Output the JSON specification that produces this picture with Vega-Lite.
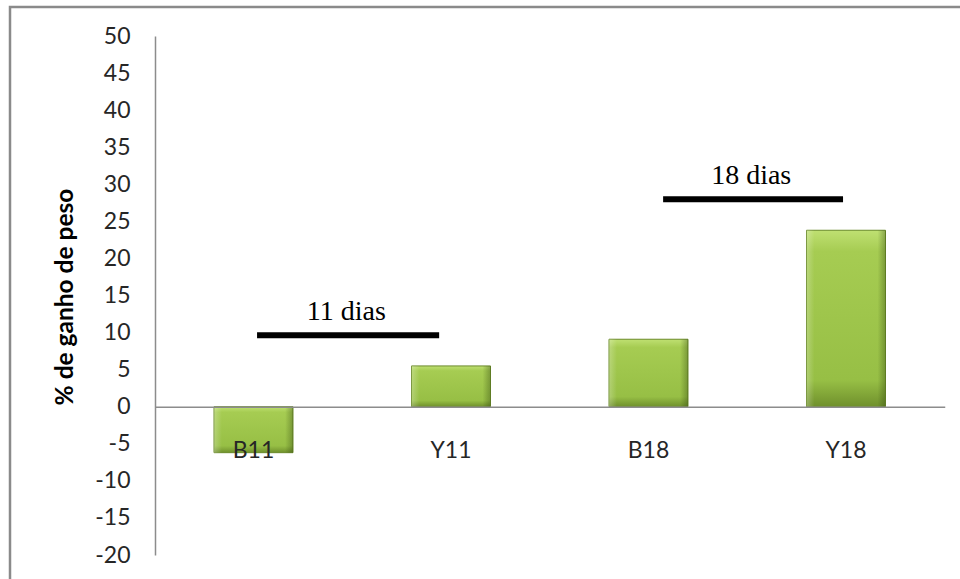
{
  "$schema": "https://vega.github.io/schema/vega-lite/v6.json",
  "autosize": "none",
  "width": 956,
  "height": 578,
  "padding": {"left": 10, "top": 7, "right": -6, "bottom": -6},
  "background": "white",
  "config": {
    "view": {"stroke": "#8a8a8a", "strokeWidth": 2.5},
    "font": "Lato"
  },
  "datasets": {
    "barras": [
      {"grupo": "B11", "ganho": -6.2},
      {"grupo": "Y11", "ganho": 5.5},
      {"grupo": "B18", "ganho": 9.1},
      {"grupo": "Y18", "ganho": 23.8}
    ],
    "periodos": [
      {"rotulo": "11 dias", "inicio": 0.518, "fim": 1.44, "nivel": 9.63, "centro": 0.97, "altura_texto": 11.7},
      {"rotulo": "18 dias", "inicio": 2.574, "fim": 3.485, "nivel": 27.97, "centro": 3.02, "altura_texto": 30.05}
    ]
  },
  "layer": [
    {
      "data": {"name": "barras"},
      "mark": {
        "type": "bar",
        "stroke": "#6a8a28",
        "strokeWidth": 1,
        "fill": {
          "gradient": "linear", "x1": 0, "y1": 0, "x2": 0, "y2": 1,
          "stops": [
            {"offset": 0, "color": "#bfe072"},
            {"offset": 0.12, "color": "#a6cc52"},
            {"offset": 0.85, "color": "#97bf45"},
            {"offset": 1, "color": "#6f902c"}
          ]
        }
      },
      "encoding": {
        "x": {
          "field": "grupo", "type": "nominal", "sort": null,
          "scale": {"range": [144.75, 934.75], "paddingInner": 0.6, "paddingOuter": 0.3},
          "axis": {
            "orient": "bottom", "offset": -178.3, "title": null, "ticks": false,
            "labelAngle": 0, "labelFont": "Lato", "labelFontSize": 23, "labelColor": "#262626",
            "labelPadding": 33, "domainColor": "#8c8c8c", "domainWidth": 1.5, "zindex": 1, "grid": false
          }
        },
        "y": {
          "field": "ganho", "type": "quantitative",
          "scale": {"domain": [-20, 50], "range": [548, 29], "nice": false, "zero": false},
          "axis": {
            "orient": "left", "offset": -145,
            "values": [-20, -15, -10, -5, 0, 5, 10, 15, 20, 25, 30, 35, 40, 45, 50],
            "labelExpr": "'' + datum.value",
            "ticks": false, "grid": false, "domainColor": "#8c8c8c", "domainWidth": 1.5,
            "labelFont": "Lato", "labelFontSize": 23, "labelColor": "#262626", "labelPadding": 25,
            "title": "% de ganho de peso", "titleFont": "Lato", "titleFontSize": 24.5,
            "titleFontWeight": "bold", "titleColor": "#000000",
            "titleX": -83, "titleY": 289.5, "titleAngle": -90, "titleAlign": "center", "titleBaseline": "alphabetic"
          }
        }
      }
    },
    {
      "data": {"name": "barras"},
      "mark": {
        "type": "bar",
        "fill": {
          "gradient": "linear", "x1": 0, "y1": 0, "x2": 1, "y2": 0,
          "stops": [
            {"offset": 0, "color": "rgba(255,255,255,0.25)"},
            {"offset": 0.1, "color": "rgba(255,255,255,0)"},
            {"offset": 0.9, "color": "rgba(40,60,10,0)"},
            {"offset": 1, "color": "rgba(40,60,10,0.35)"}
          ]
        }
      },
      "encoding": {
        "x": {"field": "grupo", "type": "nominal", "sort": null, "scale": {"range": [144.75, 934.75], "paddingInner": 0.6, "paddingOuter": 0.3}, "axis": null},
        "y": {"field": "ganho", "type": "quantitative", "axis": null}
      }
    },
    {
      "data": {"name": "periodos"},
      "mark": {"type": "rule", "color": "#000000", "strokeWidth": 6},
      "encoding": {
        "x": {"field": "inicio", "type": "quantitative", "scale": {"domain": [0, 4], "range": [144.75, 934.75], "nice": false, "zero": false}, "axis": null},
        "x2": {"field": "fim"},
        "y": {"field": "nivel", "type": "quantitative", "axis": null}
      }
    },
    {
      "data": {"name": "periodos"},
      "mark": {"type": "text", "font": "Liberation Serif", "fontSize": 28, "color": "#000000", "align": "center", "baseline": "alphabetic"},
      "encoding": {
        "x": {"field": "centro", "type": "quantitative", "scale": {"domain": [0, 4], "range": [144.75, 934.75], "nice": false, "zero": false}, "axis": null},
        "y": {"field": "altura_texto", "type": "quantitative", "axis": null},
        "text": {"field": "rotulo"}
      }
    }
  ],
  "resolve": {"scale": {"x": "independent"}, "axis": {"y": "independent"}}
}
